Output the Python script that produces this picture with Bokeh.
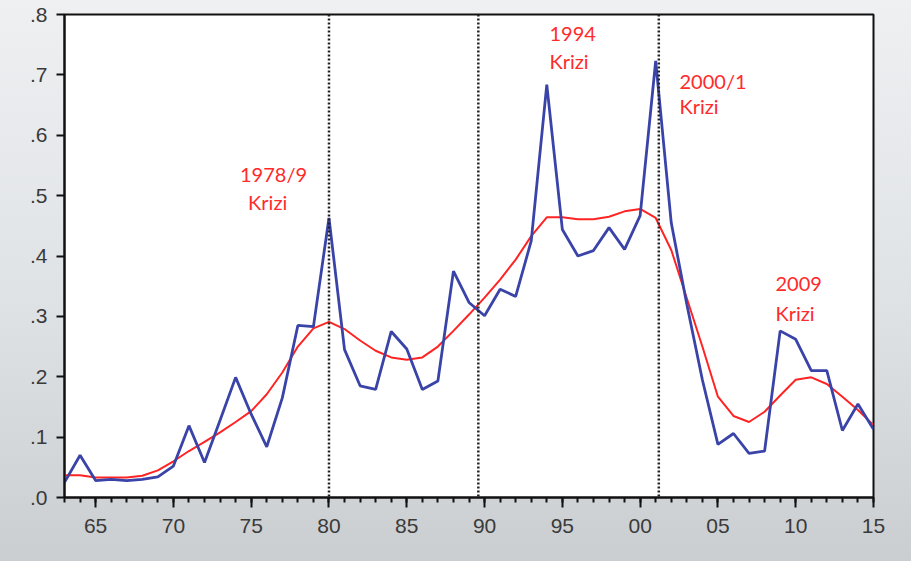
from bokeh.plotting import figure
from bokeh.models import FixedTicker, Span, CustomJSTickFormatter, Range1d
from bokeh.core.properties import value
from bokeh.embed import file_html
from bokeh.resources import INLINE

years = list(range(1963, 2016))
series_actual = [0.025, 0.070, 0.028, 0.030, 0.028, 0.030, 0.034, 0.052, 0.119, 0.058,
                 0.128, 0.199, 0.138, 0.084, 0.165, 0.285, 0.283, 0.463, 0.245, 0.185,
                 0.179, 0.275, 0.246, 0.179, 0.193, 0.375, 0.323, 0.301, 0.345, 0.333,
                 0.425, 0.684, 0.444, 0.400, 0.409, 0.447, 0.411, 0.467, 0.723, 0.455,
                 0.320, 0.195, 0.088, 0.106, 0.073, 0.077, 0.276, 0.262, 0.210, 0.210,
                 0.111, 0.155, 0.113]
series_trend = [0.037, 0.037, 0.033, 0.033, 0.033, 0.036, 0.045, 0.060, 0.077, 0.092,
                0.108, 0.125, 0.143, 0.171, 0.207, 0.250, 0.280, 0.291, 0.279, 0.260,
                0.243, 0.232, 0.228, 0.232, 0.250, 0.276, 0.303, 0.331, 0.361, 0.394,
                0.433, 0.464, 0.464, 0.461, 0.461, 0.465, 0.474, 0.478, 0.463, 0.410,
                0.330, 0.250, 0.167, 0.135, 0.125, 0.142, 0.169, 0.195, 0.199, 0.188,
                0.167, 0.145, 0.120]
break_years = [1980.0, 1989.6, 2001.2]
x_major_ticks = list(range(1965, 2016, 5))
x_tick_labels = ["65", "70", "75", "80", "85", "90", "95", "00", "05", "10", "15"]
y_ticks = [0.0, 0.1, 0.2, 0.3, 0.4, 0.5, 0.6, 0.7, 0.8]

crisis_line1 = ["1978/9", "1994", "2000/1", "2009"]
crisis_line2 = ["Krizi", "Krizi", "Krizi", "Krizi"]
label_x1 = [1974.28, 1994.17, 2002.53, 2008.70]
label_x2 = [1974.80, 1994.17, 2002.53, 2008.70]
label_y1 = [0.556, 0.780, 0.710, 0.366]
label_y2 = [0.510, 0.743, 0.669, 0.326]

p = figure(width=911, height=561, output_backend="svg", toolbar_location=None,
           x_range=Range1d(1963, 2015), y_range=Range1d(0, 0.8),
           min_border_left=64, min_border_right=38, min_border_top=14, min_border_bottom=64)
p.border_fill_alpha = 0
p.styles = {"background": "linear-gradient(to bottom, #eef0f2 0%, #dfe2e5 55%, #cbced1 100%)"}
p.background_fill_color = "white"
p.outline_line_color = "#111111"
p.outline_line_width = 2
p.xgrid.visible = False
p.ygrid.visible = False

for b in break_years:
    p.add_layout(Span(location=b, dimension="height", line_color="#222222",
                      line_width=2.5, line_dash="2 2"))

p.line(years, series_trend, line_color="#ff2424", line_width=2)
p.line(years, series_actual, line_color="#3a44a8", line_width=2.8)

p.text(x=label_x1, y=label_y1, text=crisis_line1, text_color="#ff2a2a",
       text_font=value("Lato"), text_font_size="20px", text_baseline="top", text_align="left")
p.text(x=label_x2, y=label_y2, text=crisis_line2, text_color="#ff2a2a",
       text_font=value("Lato"), text_font_size="20px", text_baseline="top", text_align="left")

xa = p.xaxis[0]
xa.ticker = FixedTicker(ticks=x_major_ticks, minor_ticks=years)
xa.major_label_overrides = {t: l for t, l in zip(x_major_ticks, x_tick_labels)}
xa.major_tick_in = 0
xa.major_tick_out = 10
xa.minor_tick_in = 0
xa.minor_tick_out = 5
xa.major_label_standoff = 11

ya = p.yaxis[0]
ya.ticker = FixedTicker(ticks=y_ticks, minor_ticks=[])
ya.formatter = CustomJSTickFormatter(code="return tick.toFixed(1).replace(/^0/, '');")
ya.major_tick_in = 0
ya.major_tick_out = 8
ya.major_label_standoff = 9

for ax in (xa, ya):
    ax.axis_line_color = "#111111"
    ax.axis_line_width = 2
    ax.major_tick_line_color = "#111111"
    ax.major_tick_line_width = 2
    ax.minor_tick_line_color = "#111111"
    ax.minor_tick_line_width = 2
    ax.major_label_text_font = "Liberation Sans"
    ax.major_label_text_font_size = "21px"
    ax.major_label_text_color = "#3a3a3a"

open("out.html", "w").write(file_html(p, INLINE))
